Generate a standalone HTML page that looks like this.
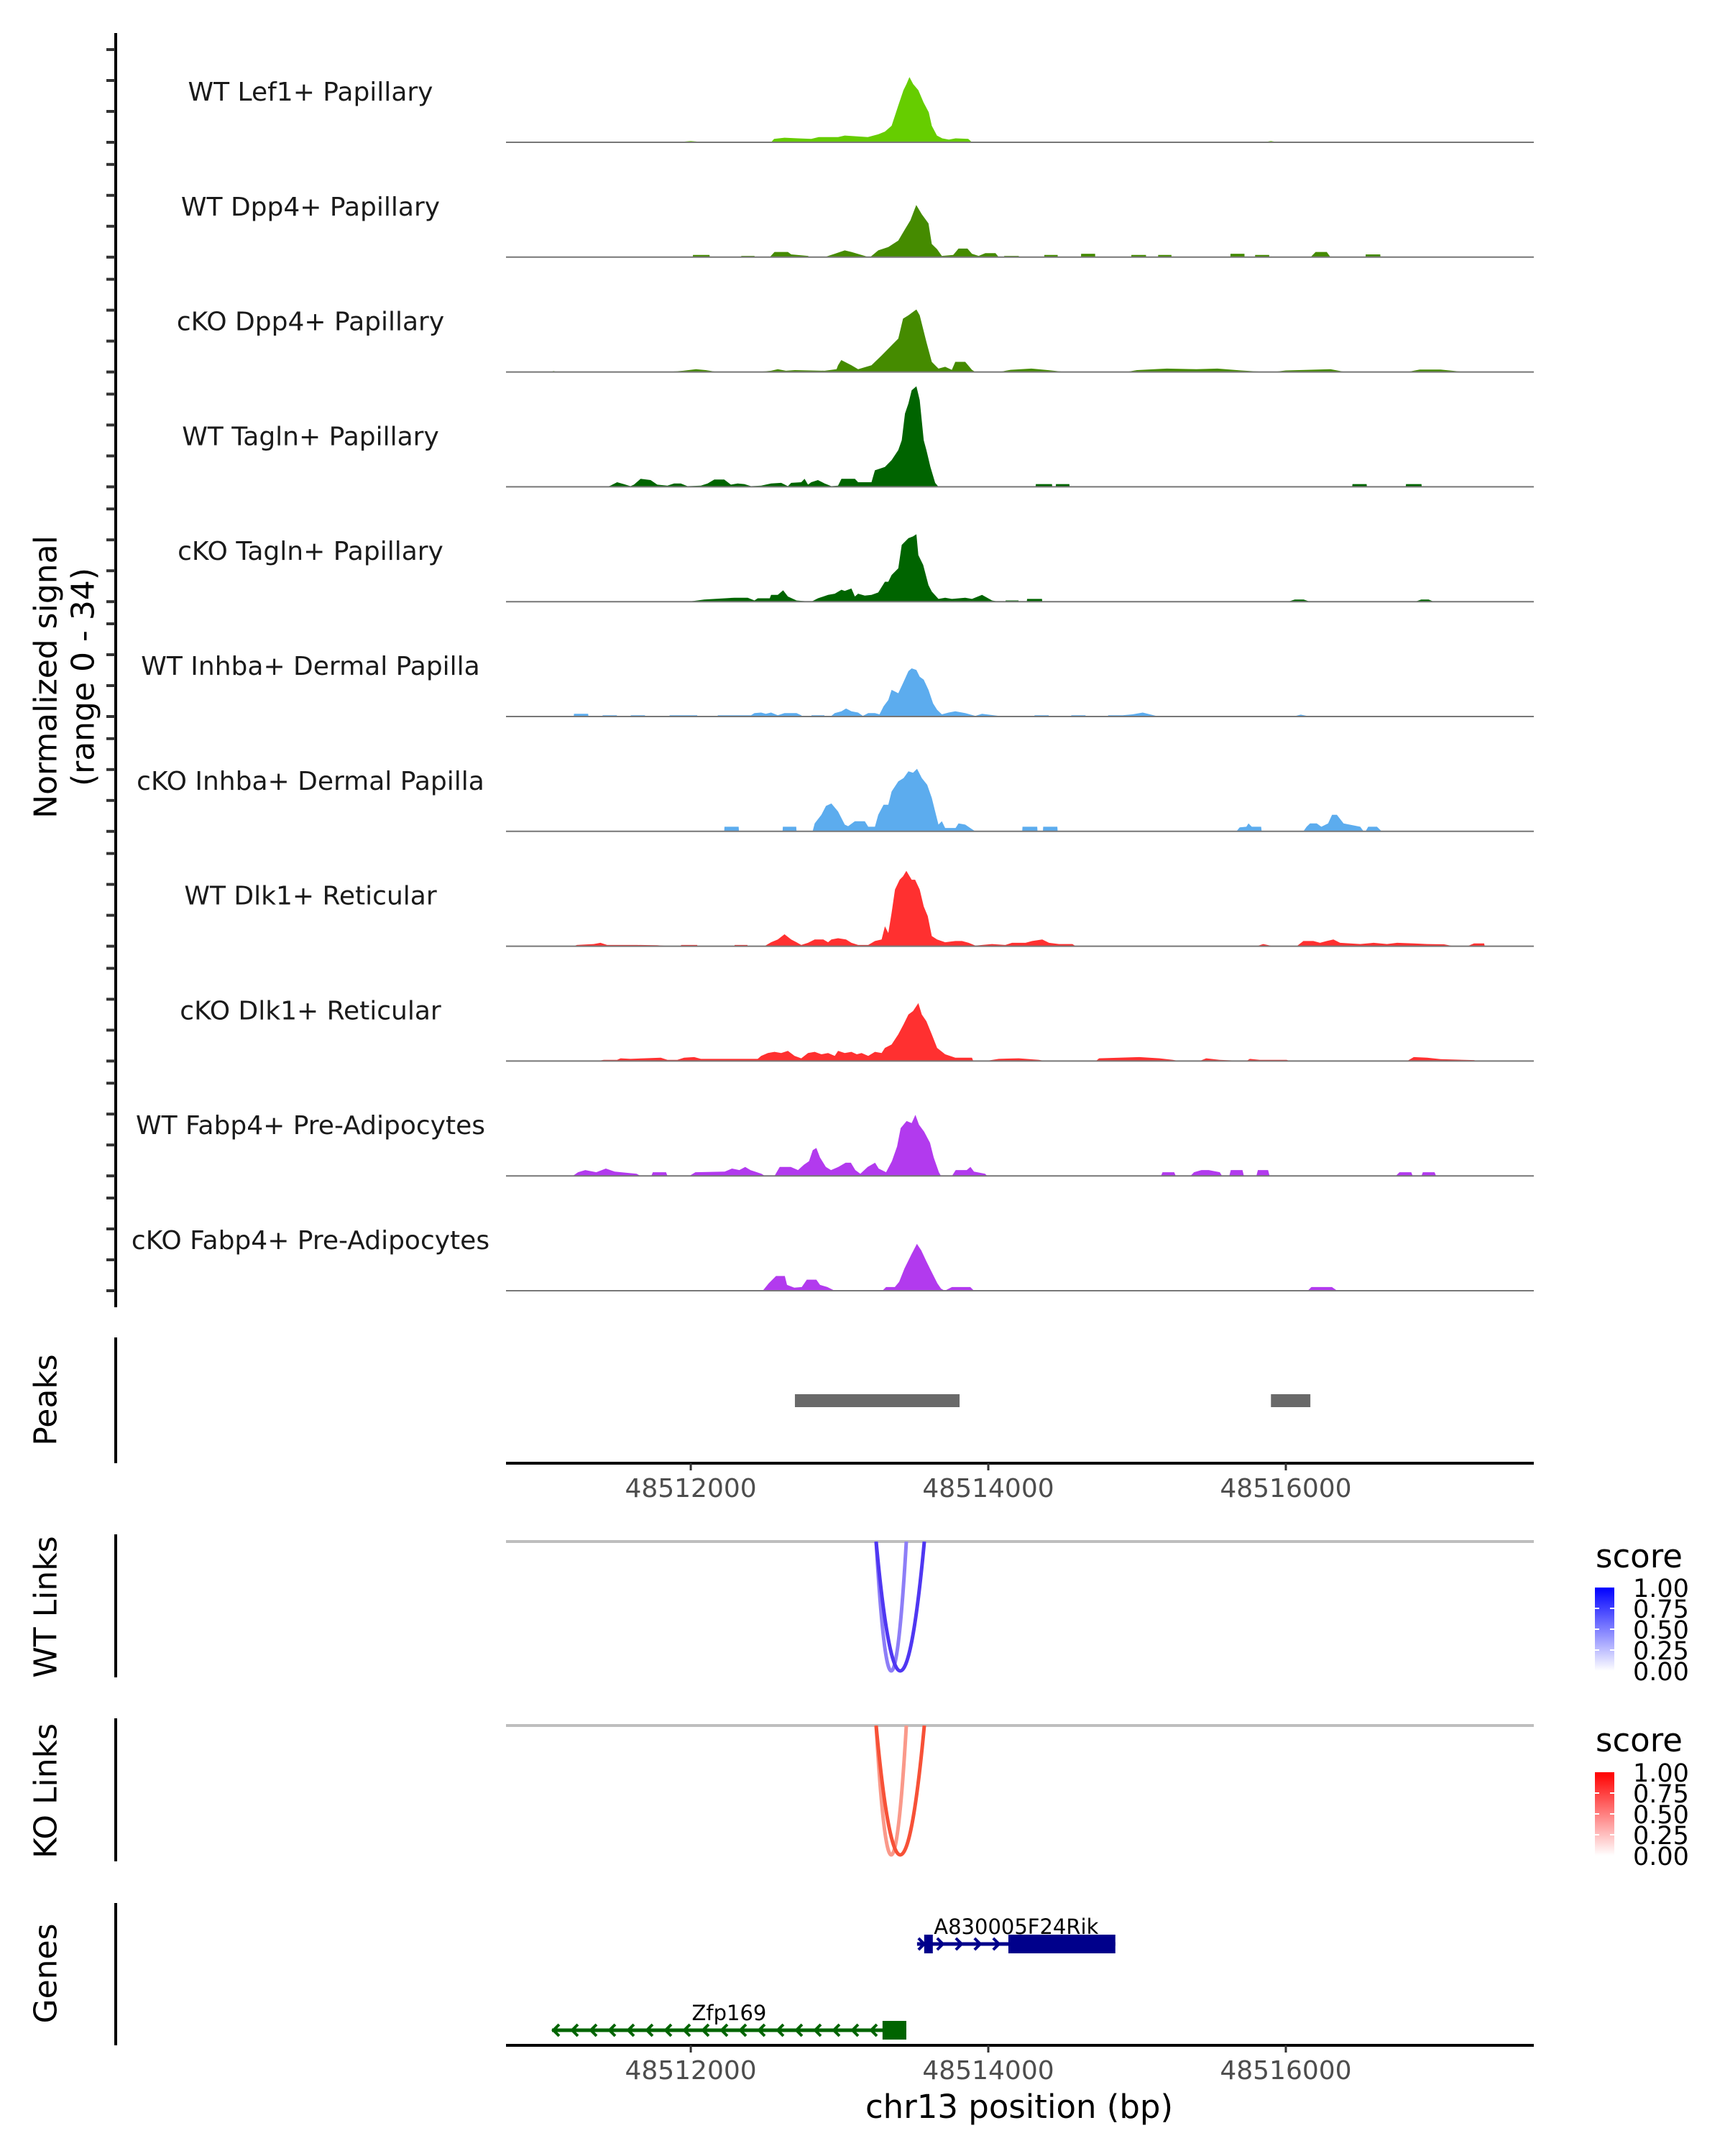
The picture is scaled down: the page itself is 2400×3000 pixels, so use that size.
<!DOCTYPE html>
<html><head><meta charset="utf-8"><style>
html,body{margin:0;padding:0;background:#fff}
svg{display:block}
text{font-family:"DejaVu Sans","Liberation Sans",sans-serif}
</style></head><body>
<svg id="chart" width="2400" height="3000" viewBox="0 0 2400 3000" xmlns="http://www.w3.org/2000/svg">
<g id="static">
<text x="64" y="942" transform="rotate(-90 64 942)" text-anchor="middle" dominant-baseline="central" font-size="44">Normalized signal</text>
<text x="116" y="942" transform="rotate(-90 116 942)" text-anchor="middle" dominant-baseline="central" font-size="44">(range 0 - 34)</text>
<line x1="161" y1="46" x2="161" y2="1819" stroke="#000" stroke-width="4"/>
<line x1="161" y1="1861" x2="161" y2="2036" stroke="#000" stroke-width="4"/>
<line x1="161" y1="2135" x2="161" y2="2334" stroke="#000" stroke-width="4"/>
<line x1="161" y1="2391" x2="161" y2="2590" stroke="#000" stroke-width="4"/>
<line x1="161" y1="2648" x2="161" y2="2846" stroke="#000" stroke-width="4"/>
<text x="64" y="1948" transform="rotate(-90 64 1948)" text-anchor="middle" dominant-baseline="central" font-size="44">Peaks</text>
<text x="64" y="2236" transform="rotate(-90 64 2236)" text-anchor="middle" dominant-baseline="central" font-size="44">WT Links</text>
<text x="64" y="2492" transform="rotate(-90 64 2492)" text-anchor="middle" dominant-baseline="central" font-size="44">KO Links</text>
<text x="64" y="2746" transform="rotate(-90 64 2746)" text-anchor="middle" dominant-baseline="central" font-size="44">Genes</text>
<line x1="704" y1="2036" x2="2134" y2="2036" stroke="#000" stroke-width="4"/>
<line x1="704" y1="2846" x2="2134" y2="2846" stroke="#000" stroke-width="4"/>
<line x1="704" y1="2145" x2="2134" y2="2145" stroke="#bebebe" stroke-width="4"/>
<line x1="704" y1="2401" x2="2134" y2="2401" stroke="#bebebe" stroke-width="4"/>
<text x="1418" y="2947" text-anchor="middle" font-size="45">chr13 position (bp)</text>
<defs>
<linearGradient id="gBlue" x1="0" y1="1" x2="0" y2="0"><stop offset="0" stop-color="#ffffff"/><stop offset="1" stop-color="#0000ff"/></linearGradient>
<linearGradient id="gRed" x1="0" y1="1" x2="0" y2="0"><stop offset="0" stop-color="#ffffff"/><stop offset="1" stop-color="#ff0000"/></linearGradient>
<clipPath id="clipWT"><rect x="704" y="2145" width="1430" height="200"/></clipPath>
<clipPath id="clipKO"><rect x="704" y="2401" width="1430" height="200"/></clipPath>
</defs>
</g>
<g id="tracks"></g>
<g id="peaks"></g>
<g id="links"></g>
<g id="genes"></g>
<g id="legends"></g>
<g id="axes"></g>
</svg>
<script>
const REGION = 48510000;
const X_MIN = 48510758, X_MAX = 48517667;
const trackNames = ["WT Lef1+ Papillary","WT Dpp4+ Papillary","cKO Dpp4+ Papillary","WT Tagln+ Papillary","cKO Tagln+ Papillary","WT Inhba+ Dermal Papilla","cKO Inhba+ Dermal Papilla","WT Dlk1+ Reticular","cKO Dlk1+ Reticular","WT Fabp4+ Pre-Adipocytes","cKO Fabp4+ Pre-Adipocytes"];
const trackColors = ["#66CD00","#458B00","#458B00","#006400","#006400","#5CACEE","#5CACEE","#FF3030","#FF3030","#B23AEE","#B23AEE"];
const xTicks = [48512000,48514000,48516000];
const yRangeMax = 34;
const sig0 = [[1900,0],[2000,0.4],[2100,0],[2540,0],[2560,1.1],[2630,1.5],[2720,1.3],[2810,1.1],[2860,1.7],[2990,1.7],[3035,2.2],[3100,2.0],[3190,1.7],[3260,2.6],[3305,3.5],[3350,5.4],[3370,8.3],[3395,12],[3430,17],[3450,19],[3470,21.3],[3495,19],[3530,17],[3565,13],[3600,9.8],[3620,5.4],[3655,2.2],[3690,1.3],[3735,0.9],[3780,1.3],[3865,1.1],[3890,0],[5850,0],[5900,0.4],[5950,0]];
const sig1 = [[2013,0],[2015,0.7],[2126,0.7],[2128,0],[2338,0],[2340,0.4],[2428,0.4],[2430,0],[2531,0],[2563,1.7],[2653,1.7],[2675,0.9],[2788,0.4],[2800,0],[2900,0],[2968,1.1],[3035,2.2],[3080,1.7],[3170,0.4],[3195,0],[3206,0],[3260,2.2],[3328,3.3],[3395,5.4],[3440,9.1],[3476,12],[3516,17],[3553,14],[3598,11],[3620,4.3],[3656,2.6],[3688,0.4],[3764,0.7],[3800,2.8],[3860,2.8],[3890,1.1],[3935,0.4],[3980,1.3],[4048,1.3],[4070,0],[4106,0],[4107,0.4],[4205,0.4],[4206,0],[4376,0],[4377,0.7],[4466,0.7],[4467,0],[4623,0],[4624,1.1],[4718,1.1],[4719,0],[4961,0],[4962,0.7],[5060,0.7],[5061,0],[5141,0],[5142,0.7],[5231,0.7],[5232,0],[5627,0],[5628,1.1],[5722,1.1],[5723,0],[5793,0],[5794,0.7],[5888,0.7],[5889,0],[6167,0],[6200,1.7],[6275,1.7],[6300,0],[6536,0],[6537,0.9],[6635,0.9],[6636,0]];
const sig2 = [[1060,0],[1078,0.3],[1100,0],[1840,0],[1950,0.4],[2035,0.9],[2100,0.6],[2180,0],[2450,0],[2540,0.4],[2585,0.9],[2640,0.4],[2700,0.6],[2900,0.4],[2980,0.9],[2990,2.2],[3012,3.9],[3080,2.2],[3125,0.9],[3215,2.2],[3283,5.4],[3350,8.7],[3395,10.9],[3427,17.4],[3463,18.5],[3494,19.6],[3517,20.4],[3539,18.5],[3584,9.8],[3620,3.3],[3665,1.1],[3710,1.7],[3755,0.7],[3778,3.3],[3845,3.3],[3890,0.7],[3913,0],[4070,0],[4150,0.7],[4290,1.1],[4400,0.6],[4520,0],[4925,0],[5000,0.6],[5200,1.1],[5400,0.9],[5540,1.1],[5700,0.5],[5870,0],[5915,0],[6000,0.5],[6300,0.9],[6400,0],[6815,0],[6900,0.8],[7040,0.8],[7200,0]];
const sig3 = [[1438,0],[1460,0.4],[1505,1.5],[1550,0.9],[1595,0.2],[1618,0.7],[1663,2.6],[1730,2.2],[1775,0.7],[1843,0.4],[1888,1.1],[1933,1.1],[1978,0.2],[2068,0.4],[2113,1.1],[2158,2.4],[2225,2.4],[2270,0.7],[2315,1.1],[2360,0.9],[2405,0.2],[2473,0.4],[2540,1.1],[2608,1.3],[2653,0.2],[2675,1.3],[2743,1.5],[2765,2.6],[2788,0.7],[2810,1.5],[2855,2.2],[2900,1.1],[2945,0.2],[2990,0.4],[3013,2.6],[3103,2.6],[3125,1.5],[3215,1.5],[3238,5.4],[3305,6.5],[3350,8.7],[3395,12],[3418,15.2],[3440,23.9],[3463,27.2],[3485,31.5],[3517,32.8],[3539,28.3],[3566,15.2],[3584,12],[3611,6.5],[3643,1.3],[3665,0],[4318,0],[4320,0.9],[4428,0.9],[4430,0],[4453,0],[4455,0.9],[4545,0.9],[4547,0],[6446,0],[6448,0.9],[6543,0.9],[6545,0],[6806,0],[6808,0.9],[6912,0.9],[6914,0]];
const sig4 = [[1978,0],[2045,0.4],[2090,0.7],[2293,1.3],[2383,1.3],[2428,0.4],[2450,1.1],[2531,1.1],[2540,2.2],[2585,2.2],[2621,3.7],[2653,1.7],[2711,0.4],[2810,0],[2855,1.1],[2923,2.2],[2968,2.6],[3013,3.9],[3035,3.5],[3080,4.3],[3103,1.7],[3125,2.6],[3170,2.0],[3215,2.2],[3260,3.0],[3305,6.5],[3328,6.5],[3350,8.7],[3395,10.9],[3418,18.5],[3463,20.7],[3494,21.3],[3517,22],[3530,15.2],[3562,12],[3598,5.4],[3620,3.3],[3665,0.9],[3710,1.3],[3755,0.9],[3845,1.3],[3890,0.9],[3958,2.2],[4025,0.4],[4070,0],[4115,0],[4117,0.4],[4203,0.4],[4205,0],[4259,0],[4261,0.9],[4361,0.9],[4363,0],[6014,0],[6060,0.7],[6120,0.7],[6163,0],[6869,0],[6910,0.7],[6960,0.7],[6995,0]];
const sig5 = [[1213,0],[1215,0.9],[1310,0.9],[1312,0],[1406,0],[1408,0.4],[1503,0.4],[1505,0],[1595,0],[1597,0.4],[1692,0.4],[1694,0],[1856,0],[1858,0.4],[2043,0.4],[2045,0],[2180,0],[2182,0.4],[2405,0.4],[2428,1.1],[2473,1.3],[2504,0.9],[2540,1.3],[2585,0.4],[2630,1.1],[2711,1.1],[2743,0.4],[2750,0],[2810,0],[2812,0.4],[2898,0.4],[2900,0],[2940,0],[2968,1.1],[3013,1.7],[3044,2.6],[3080,1.7],[3125,1.3],[3157,0.2],[3193,1.1],[3238,1.1],[3269,0.7],[3296,3.3],[3328,5.4],[3350,8.7],[3395,7.6],[3427,10.9],[3463,14.8],[3485,15.7],[3517,15.2],[3539,13],[3566,12],[3598,8.7],[3629,4.3],[3656,2.2],[3688,0.7],[3733,1.3],[3778,1.7],[3845,1.1],[3913,0.2],[3958,0.9],[4070,0.2],[4080,0],[4309,0],[4311,0.4],[4406,0.4],[4408,0],[4556,0],[4558,0.4],[4653,0.4],[4655,0],[4804,0],[4806,0.4],[4903,0.4],[4970,0.7],[5038,1.3],[5128,0.2],[5140,0],[6050,0],[6100,0.6],[6163,0]];
const sig6 = [[2225,0],[2227,1.5],[2322,1.5],[2324,0],[2617,0],[2619,1.5],[2709,1.5],[2711,0],[2819,0],[2833,2.6],[2878,5.4],[2909,8.3],[2945,9.1],[2990,6.5],[3035,2.2],[3058,1.7],[3103,3.3],[3170,3.3],[3193,1.5],[3238,1.5],[3260,5.4],[3296,8.7],[3328,8.7],[3350,13],[3395,16.3],[3431,17.4],[3463,19.6],[3494,19.1],[3521,20.4],[3553,17.4],[3589,15.2],[3620,10.9],[3643,6.5],[3665,2.2],[3688,3.3],[3710,1.1],[3780,1.1],[3800,2.6],[3845,2.2],[3890,0.7],[3913,0],[4228,0],[4230,1.5],[4329,1.5],[4331,0],[4367,0],[4369,1.5],[4464,1.5],[4466,0],[5668,0],[5690,1.3],[5735,1.5],[5749,2.6],[5771,1.5],[5834,1.5],[5838,0],[6118,0],[6140,1.5],[6163,2.6],[6208,2.6],[6239,1.5],[6284,2.6],[6311,5.4],[6343,5.4],[6388,2.6],[6500,1.5],[6523,0],[6536,0],[6554,1.5],[6613,1.5],[6644,0]];
const sig7 = [[1213,0],[1235,0.4],[1348,0.7],[1393,1.1],[1438,0.4],[1550,0.4],[1640,0.4],[1775,0.3],[1865,0],[1933,0],[1935,0.4],[2043,0.4],[2045,0],[2293,0],[2295,0.4],[2381,0.4],[2383,0],[2495,0],[2540,1.3],[2585,2.2],[2630,3.9],[2675,2.2],[2711,1.3],[2743,0.4],[2788,1.1],[2833,2.2],[2891,2.2],[2923,1.3],[2945,2.2],[2990,2.6],[3044,2.2],[3080,1.1],[3125,0.4],[3193,0.4],[3238,1.7],[3283,2.2],[3305,6.5],[3328,4.3],[3350,10.9],[3373,18.5],[3404,21.7],[3427,22.8],[3449,24.6],[3485,21.7],[3508,21.7],[3539,18.5],[3566,13],[3593,9.8],[3620,3.3],[3656,2.2],[3710,1.3],[3778,1.7],[3823,1.7],[3868,1.1],[3913,0.2],[4025,0.7],[4115,0.4],[4160,1.1],[4250,1.1],[4295,1.7],[4363,2.2],[4408,1.1],[4475,0.7],[4565,0.7],[4588,0],[5803,0],[5848,0.7],[5915,0],[6073,0],[6118,1.7],[6185,1.7],[6230,1.1],[6275,1.7],[6320,2.2],[6365,1.1],[6500,0.7],[6590,1.1],[6680,0.7],[6748,1.1],[6860,0.9],[6950,0.7],[7063,0.6],[7130,0],[7220,0],[7265,0.9],[7333,0.9],[7337,0]];
const sig8 = [[1370,0],[1415,0.4],[1505,0.4],[1528,0.9],[1595,0.7],[1685,0.9],[1798,1.1],[1843,0.4],[1910,0.4],[1955,1.1],[2023,1.3],[2068,0.7],[2270,0.7],[2450,0.7],[2473,1.7],[2518,2.6],[2563,3.0],[2608,2.6],[2653,3.3],[2698,1.7],[2743,0.9],[2788,2.6],[2833,3.0],[2878,2.2],[2923,2.6],[2968,1.7],[2990,3.3],[3035,2.6],[3080,3.0],[3116,2.2],[3148,2.6],[3193,1.7],[3238,3.0],[3283,2.6],[3305,4.3],[3350,5.4],[3395,8.7],[3431,12],[3463,15.2],[3494,16.3],[3530,18.9],[3553,15.2],[3584,13],[3620,8.7],[3656,4.3],[3710,2.2],[3778,1.1],[3890,1.1],[3899,0],[3980,0],[4070,0.7],[4205,0.9],[4340,0.4],[4385,0],[4723,0],[4745,0.9],[4880,1.1],[5015,1.3],[5150,0.9],[5240,0.4],[5285,0],[5420,0],[5465,0.9],[5555,0.4],[5735,0],[5758,0.7],[5825,0.4],[5915,0.4],[6005,0.4],[6028,0],[6815,0],[6860,1.3],[6950,1.1],[7040,0.6],[7265,0.3],[7288,0]];
const sig9 = [[1207,0],[1242,1.2],[1291,1.9],[1365,1.2],[1429,2.4],[1489,1.4],[1636,0.7],[1661,0],[1735,0],[1745,1.2],[1834,1.2],[1843,0],[1991,0],[2031,1.2],[2228,1.4],[2277,2.4],[2327,1.9],[2366,2.9],[2401,1.9],[2475,0.7],[2499,0],[2563,0],[2598,2.9],[2672,2.9],[2721,1.9],[2760,3.6],[2795,4.8],[2820,8.4],[2844,9.1],[2869,6.0],[2908,2.9],[2943,1.9],[2992,2.9],[3041,4.3],[3076,4.3],[3106,1.9],[3140,0.7],[3189,2.9],[3239,4.3],[3263,2.4],[3313,1.2],[3352,4.8],[3387,9.6],[3411,15.6],[3451,17.9],[3485,17.2],[3510,19.9],[3534,16.7],[3569,14.4],[3608,10.8],[3633,6.0],[3668,1.2],[3682,0],[3756,0],[3781,1.9],[3855,1.9],[3880,2.9],[3904,1.4],[3978,0.7],[3993,0],[5161,0],[5171,1.2],[5250,1.2],[5260,0],[5359,0],[5383,1.2],[5433,1.9],[5482,1.9],[5556,1.2],[5571,0],[5620,0],[5630,1.9],[5709,1.9],[5718,0],[5802,0],[5812,1.9],[5881,1.9],[5891,0],[6739,0],[6764,1.2],[6843,1.2],[6853,0],[6912,0],[6921,1.2],[7000,1.2],[7010,0]];
const sig10 = [[2484,0],[2524,2.4],[2573,4.8],[2632,4.8],[2647,1.9],[2696,1.0],[2746,1.2],[2780,3.6],[2844,3.6],[2869,1.9],[2918,1.2],[2968,0],[3288,0],[3313,1.2],[3372,1.2],[3401,2.9],[3436,7.2],[3485,12],[3520,15.3],[3549,13.2],[3584,9.6],[3608,7.2],[3658,2.4],[3682,0.7],[3707,0],[3756,1.2],[3879,1.2],[3904,0],[6147,0],[6172,1.2],[6310,1.2],[6345,0]];
const signals = [sig0,sig1,sig2,sig3,sig4,sig5,sig6,sig7,sig8,sig9,sig10];
const peakStarts = [2700,5900];
const peakEnds = [3807,6165];
const wtLinkStarts = [3246,3246];
const wtLinkEnds = [3449,3570];
const wtLinkScores = [0.55,0.85];
const koLinkStarts = [3246,3246];
const koLinkEnds = [3449,3570];
const koLinkScores = [0.5,0.85];
const geneNames = ["A830005F24Rik","Zfp169"];
const geneStarts = [3521,1067];
const geneEnds = [4854,3449];
const geneStrands = [1,-1];
const geneExons = [[[3569,3627],[4135,4854]],[[3289,3449]]];
const geneColors = ["#00008B","#006400"];
const legendTicks = ["1.00","0.75","0.50","0.25","0.00"];

const NS = "http://www.w3.org/2000/svg";
const PX0 = 704, PX1 = 2134;
function xs(bp){ return PX0 + (bp - X_MIN) / (X_MAX - X_MIN) * (PX1 - PX0); }
function xo(off){ return xs(REGION + off); }
const TRACK0 = 198, TRACK_STEP = 159.8, TRACK_H = 145;
function ys(i, v){ return TRACK0 + i*TRACK_STEP - v / yRangeMax * TRACK_H; }
function mk(tag, attrs, parent){ const e=document.createElementNS(NS,tag); for(const k in attrs) e.setAttribute(k, attrs[k]); parent.appendChild(e); return e; }

const gT = document.getElementById('tracks');
const gStatic = document.getElementById('static');
signals.forEach((s,i)=>{
  const b = ys(i,0);
  for(let k=0;k<4;k++){
    const t = mk('line',{x1:148,x2:160,y1:b-43*k,y2:b-43*k,stroke:'#333','stroke-width':4}, gStatic);
    
    
  }
  const lbl = mk('text',{x:432,y:b-58,'text-anchor':'middle','font-size':36,fill:'#1a1a1a'}, gT);
  lbl.textContent = trackNames[i];
  
  
  let d = 'M'+PX0+','+b;
  s.forEach(p=>{ d += ' L'+xo(p[0]).toFixed(1)+','+ys(i,p[1]).toFixed(1); });
  d += ' L'+PX1+','+b+' Z';
  const a = mk('path',{d:d,fill:trackColors[i],stroke:'none'}, gT);
  
  
  const bl = mk('line',{x1:PX0,x2:PX1,y1:b,y2:b,stroke:'#777','stroke-width':2}, gT);
  
  
});

const gP = document.getElementById('peaks');
peakStarts.forEach((s,i)=>{
  const r = mk('rect',{x:xo(s),y:1940,width:xo(peakEnds[i])-xo(s),height:18,fill:'#696969'}, gP);
  
  
});

function mix(c, t){ return 'rgb('+[0,1,2].map(j=>Math.round(255+(c[j]-255)*t)).join(',')+')'; }
const gL = document.getElementById('links');
function drawLinks(starts, ends, scores, top, depth, col, clip){
  const g = mk('g',{'clip-path':'url(#'+clip+')'}, gL);
  
  
  starts.forEach((s,i)=>{
    const x1 = xo(s), x2 = xo(ends[i]), m = (x1+x2)/2;
    const d = 'M'+x1+','+top+' Q'+m+','+(top+2*depth)+' '+x2+','+top;
    const p = mk('path',{d:d,fill:'none',stroke:mix(col,scores[i]),'stroke-width':5}, g);
    
    
  });
}
drawLinks(wtLinkStarts, wtLinkEnds, wtLinkScores, 2145, 180, [48,20,240], 'clipWT');
drawLinks(koLinkStarts, koLinkEnds, koLinkScores, 2401, 180, [245,50,20], 'clipKO');

const gG = document.getElementById('genes');
const geneRows = [2705, 2825];
geneNames.forEach((n,i)=>{
  const y = geneRows[i], c = geneColors[i];
  const x1 = xo(geneStarts[i]), x2 = xo(geneEnds[i]);
  const ln = mk('line',{x1:x1,x2:x2,y1:y,y2:y,stroke:c,'stroke-width':5}, gG);
  
  
  for(let x = x1+6; x < x2-8; x += 26){
    const dir = geneStrands[i];
    const ch = mk('path',{d:'M'+(x-4*dir)+','+(y-8)+' L'+(x+4*dir)+','+y+' L'+(x-4*dir)+','+(y+8),fill:'none',stroke:c,'stroke-width':4}, gG);
    
    
  }
  geneExons[i].forEach(e=>{
    const r = mk('rect',{x:xo(e[0]),y:y-13,width:xo(e[1])-xo(e[0]),height:26,fill:c}, gG);
    
    
  });
  const t = mk('text',{x:(x1+x2)/2,y:y-14,'text-anchor':'middle','font-size':29,fill:'#000'}, gG);
  t.textContent = n;
  
  
});

const gA = document.getElementById('axes');
[2036, 2846].forEach(ay=>{
  xTicks.forEach(v=>{
    const x = xs(v);
    const tk = mk('line',{x1:x,x2:x,y1:ay,y2:ay+10,stroke:'#333','stroke-width':3}, gA);
    
    
    const tl = mk('text',{x:x,y:ay+47,'text-anchor':'middle','font-size':36,fill:'#4d4d4d'}, gA);
    tl.textContent = String(v);
    
    
  });
});

const gLeg = document.getElementById('legends');
[[2181,2209,'gBlue'],[2437,2466,'gRed']].forEach((L,j)=>{
  const t = mk('text',{x:2220,y:L[0],'font-size':45,fill:'#000'}, gLeg);
  t.textContent = 'score';
  
  
  const r = mk('rect',{x:2219,y:L[1],width:27,height:116,fill:'url(#'+L[2]+')'}, gLeg);
  
  
  legendTicks.forEach((lab,k)=>{
    const yy = L[1] + k*29;
    if(k>0 && k<4){
      const tk = mk('line',{x1:2219,x2:2225,y1:yy,y2:yy,stroke:'#fff','stroke-width':2}, gLeg);
      
      
      const tk2 = mk('line',{x1:2240,x2:2246,y1:yy,y2:yy,stroke:'#fff','stroke-width':2}, gLeg);
      
      
    }
    const tl = mk('text',{x:2272,y:yy+13,'font-size':35,fill:'#000'}, gLeg);
    tl.textContent = lab;
    
    
  });
});
</script>
</body></html>
